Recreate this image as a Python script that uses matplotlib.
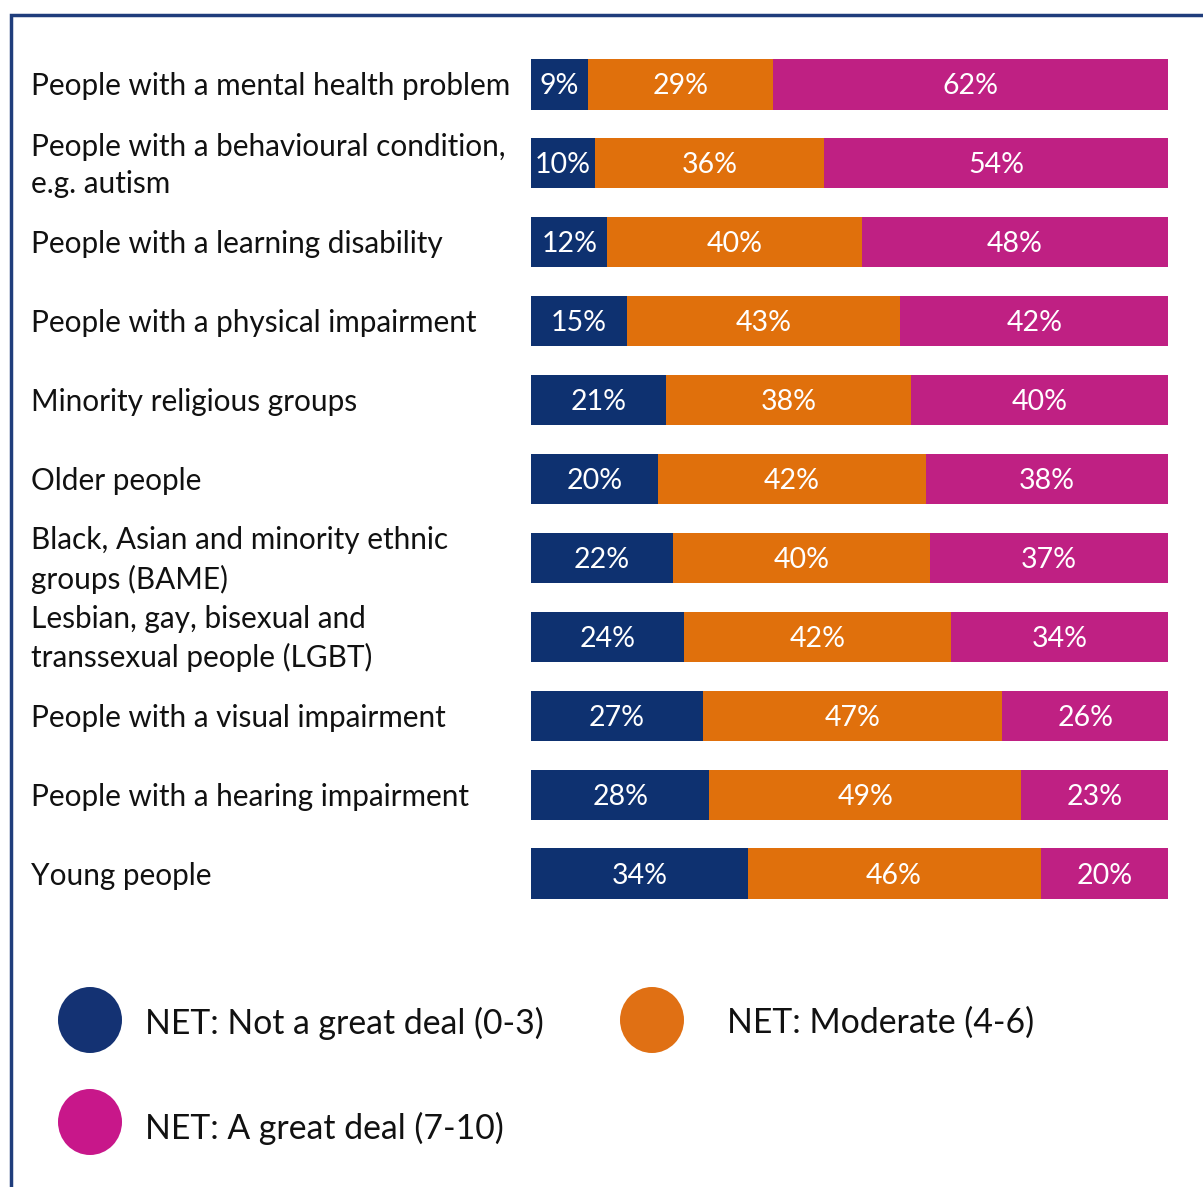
import matplotlib

matplotlib.use("Agg")
import matplotlib.pyplot as plt
import numpy as np
from matplotlib.lines import Line2D
from matplotlib.patches import Ellipse, Rectangle
from matplotlib.transforms import blended_transform_factory, offset_copy

plt.rcParams["font.family"] = ["Lato", "DejaVu Sans"]

groups = [
    "People with a mental health problem",
    "People with a behavioural condition,\ne.g. autism",
    "People with a learning disability",
    "People with a physical impairment",
    "Minority religious groups",
    "Older people",
    "Black, Asian and minority ethnic\ngroups (BAME)",
    "Lesbian, gay, bisexual and\ntranssexual people (LGBT)",
    "People with a visual impairment",
    "People with a hearing impairment",
    "Young people",
]
not_great = [9, 10, 12, 15, 21, 20, 22, 24, 27, 28, 34]
moderate = [29, 36, 40, 43, 38, 42, 40, 42, 47, 49, 46]
great_deal = [62, 54, 48, 42, 40, 38, 37, 34, 26, 23, 20]

series_names = [
    "NET: Not a great deal (0-3)",
    "NET: Moderate (4-6)",
    "NET: A great deal (7-10)",
]
bar_colors = ["#0E3170", "#E0700C", "#BF2083"]
dot_colors = ["#143273", "#E07014", "#C8178A"]

W, H = 1203, 1187
fig = plt.figure(figsize=(W / 100, H / 100), dpi=100)


def px(x0, y0, x1, y1):
    # pixel box (top-left origin) -> figure fraction rect
    return [x0 / W, 1 - y1 / H, (x1 - x0) / W, (y1 - y0) / H]


ax = fig.add_axes(px(531, 45, 1168, 913))
values = np.array([not_great, moderate, great_deal], dtype=float)
# rows that round to 99 still fill the full bar width
shares = values / values.sum(axis=0) * 100
y = np.arange(len(groups))
left = np.zeros(len(groups))
bar_label_tf = offset_copy(ax.transData, fig=fig, y=-2, units="dots")
for s in range(3):
    ax.barh(y, shares[s], left=left, height=0.635, color=bar_colors[s],
            edgecolor="none")
    for i in range(len(groups)):
        ax.text(left[i] + shares[s][i] / 2, y[i], f"{values[s][i]:.0f}%",
                ha="center", va="center", color="white", fontsize=20.5,
                transform=bar_label_tf)
    left += shares[s]

ax.set_xlim(0, 100)
ax.set_ylim(len(groups) - 0.5, -0.5)
ax.axis("off")

label_tf = offset_copy(blended_transform_factory(fig.transFigure, ax.transData),
                       fig=fig, y=-2, units="dots")
for i, name in enumerate(groups):
    fig.text(31 / W, y[i], name, transform=label_tf, ha="left", va="center",
             fontsize=21.4, color="#111111", linespacing=1.42)

# legend drawn as dots plus text in figure pixels
leg = fig.add_axes([0, 0, 1, 1])
leg.set_xlim(0, W)
leg.set_ylim(H, 0)
leg.axis("off")
dot_pos = [(90, 1020), (652, 1020), (90, 1122)]
text_pos = [(145, 1023), (727, 1023), (145, 1128)]
text_clip = Rectangle((0, 0), W, 1145, transform=leg.transData)
for (cx, cy), (tx, ty), name, col in zip(dot_pos, text_pos, series_names,
                                          dot_colors):
    leg.add_patch(Ellipse((cx, cy), 64, 66, color=col, lw=0))
    t = leg.text(tx, ty, name, ha="left", va="center", fontsize=24.3,
                 color="#111111")
    t.set_clip_path(text_clip)

# frame line along the left and top edges
leg.add_line(Line2D([11, 11, W], [H, 15, 15], color="#1F3D7C", lw=2.5,
                    solid_joinstyle="miter"))

fig.savefig("out.png", dpi=100, facecolor="white")
